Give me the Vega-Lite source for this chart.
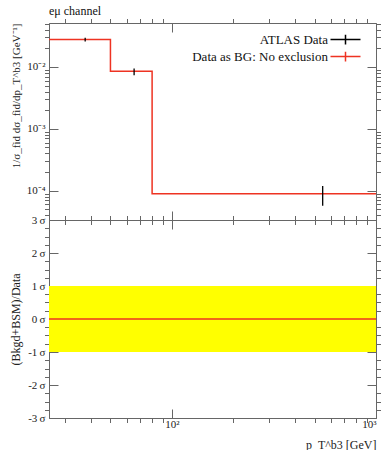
{
  "$schema": "https://vega.github.io/schema/vega-lite/v6.json",
  "autosize": {"type": "pad"},
  "padding": {"left": 9, "top": 5, "right": 13, "bottom": 0},
  "background": "white",
  "title": {"text": "eμ channel", "anchor": "start", "frame": "group", "font": "Liberation Serif", "fontSize": 12, "fontWeight": "normal", "color": "#111", "offset": -1},
  "spacing": 0,
  "bounds": "flush",
  "config": {
    "view": {"stroke": "#666", "strokeWidth": 1},
    "axis": {"grid": false, "domainColor": "#666", "tickColor": "#666", "labelFont": "Liberation Serif", "titleFont": "Liberation Serif", "labelFontSize": 11, "titleFontSize": 12, "labelColor": "#222", "titleColor": "#222", "titleFontWeight": "normal", "labelOverlap": false, "tickWidth": 1},
    "legend": {"labelFont": "Liberation Serif", "labelFontSize": 13, "labelColor": "#111"}
  },
  "vconcat": [
    {
      "width": 327,
      "height": 197,
      "layer": [
        {
          "data": {"values": [
            {"x": 25, "y": 0.0277, "s": "Data as BG: No exclusion"},
            {"x": 50, "y": 0.0085, "s": "Data as BG: No exclusion"},
            {"x": 80, "y": 0.0000895, "s": "Data as BG: No exclusion"},
            {"x": 1000, "y": 0.0000895, "s": "Data as BG: No exclusion"}
          ]},
          "mark": {"type": "line", "interpolate": "step-after", "strokeWidth": 1.5},
          "encoding": {
            "x": {"field": "x", "type": "quantitative", "scale": {"type": "log", "domain": [25, 1000], "nice": false},
              "axis": {"orient": "bottom", "title": null, "labels": false, "values": [30,40,50,60,70,80,90,100,200,300,400,500,600,700,800,900,1000],
                "tickSize": {"condition": {"test": "datum.value==100||datum.value==1000", "value": -9}, "value": 4.5}}},
            "y": {"field": "y", "type": "quantitative", "scale": {"type": "log", "domain": [0.0000337, 0.0513], "nice": false},
              "axis": {"orient": "left", "title": "1/σ_fid dσ_fid/dp_T^b3 [GeV⁻¹]", "titleAnchor": "end", "titleFontSize": 11, "titlePadding": 5,
                "values": [0.00004,0.00005,0.00006,0.00007,0.00008,0.00009,0.0001,0.0002,0.0003,0.0004,0.0005,0.0006,0.0007,0.0008,0.0009,0.001,0.002,0.003,0.004,0.005,0.006,0.007,0.008,0.009,0.01,0.02,0.03,0.04,0.05],
                "labelExpr": "datum.value==0.01?'10⁻²':datum.value==0.001?'10⁻³':datum.value==0.0001?'10⁻⁴':''",
                "labelPadding": 13,
                "tickSize": {"condition": {"test": "datum.value==0.01||datum.value==0.001||datum.value==0.0001", "value": -9}, "value": 4.5}}},
            "color": {"field": "s", "type": "nominal",
              "scale": {"domain": ["ATLAS Data", "Data as BG: No exclusion"], "range": ["#000000", "#ee3322"]},
              "legend": {"title": null, "orient": "none", "legendX": 288, "legendY": 8, "symbolType": "M-2,0H2M0,-0.65V0.65", "symbolSize": 225, "symbolStrokeWidth": 1.5, "symbolFillColor": "transparent", "labelAlign": "right", "labelOffset": -26, "rowPadding": -1}}
          }
        },
        {
          "data": {"values": [
            {"x": 37.6, "lo": 0.0258, "hi": 0.0296, "s": "ATLAS Data"},
            {"x": 65.3, "lo": 0.00734, "hi": 0.00942, "s": "ATLAS Data"},
            {"x": 548, "lo": 0.0000573, "hi": 0.000119, "s": "ATLAS Data"}
          ]},
          "mark": {"type": "rule", "strokeWidth": 1.3},
          "encoding": {
            "x": {"field": "x", "type": "quantitative", "axis": null},
            "y": {"field": "lo", "type": "quantitative", "axis": null},
            "y2": {"field": "hi"},
            "color": {"field": "s", "type": "nominal"}
          }
        },
        {
          "data": {"values": [{"x": 25, "y": 0.0277}, {"x": 1000, "y": 0.0000895}]},
          "mark": {"type": "point", "opacity": 0, "size": 1},
          "encoding": {
            "x": {"field": "x", "type": "quantitative",
              "axis": {"orient": "top", "title": null, "labels": false, "domain": false, "values": [30,40,50,60,70,80,90,100,200,300,400,500,600,700,800,900,1000],
                "tickSize": {"condition": {"test": "datum.value==100||datum.value==1000", "value": -9}, "value": 4.5}}},
            "y": {"field": "y", "type": "quantitative",
              "axis": {"orient": "right", "title": null, "labels": false, "domain": false,
                "values": [0.00004,0.00005,0.00006,0.00007,0.00008,0.00009,0.0001,0.0002,0.0003,0.0004,0.0005,0.0006,0.0007,0.0008,0.0009,0.001,0.002,0.003,0.004,0.005,0.006,0.007,0.008,0.009,0.01,0.02,0.03,0.04,0.05],
                "tickSize": {"condition": {"test": "datum.value==0.01||datum.value==0.001||datum.value==0.0001", "value": -9}, "value": 4.5}}}
          }
        }
      ],
      "resolve": {"axis": {"x": "independent", "y": "independent"}}
    },
    {
      "width": 327,
      "height": 198,
      "layer": [
        {
          "data": {"values": [{"x": 25, "x2": 1000, "y": -1, "y2": 1}]},
          "mark": {"type": "rect", "color": "#ffff00"},
          "encoding": {
            "x": {"field": "x", "type": "quantitative", "scale": {"type": "log", "domain": [25, 1000], "nice": false},
              "axis": {"orient": "bottom", "title": "p_T^b3 [GeV]", "titleAnchor": "end", "titlePadding": -3,
                "values": [30,40,50,60,70,80,90,100,200,300,400,500,600,700,800,900,1000],
                "labelExpr": "datum.value==100?'10²':datum.value==1000?'10³':''",
                "labelPadding": 9,
                "tickSize": {"condition": {"test": "datum.value==100||datum.value==1000", "value": -9}, "value": 4.5}}},
            "x2": {"field": "x2"},
            "y": {"field": "y", "type": "quantitative", "scale": {"domain": [-3, 3], "nice": false},
              "axis": {"orient": "left", "title": "(Bkgd+BSM)/Data", "titleAnchor": "middle", "titlePadding": 5,
                "values": [-3,-2.75,-2.5,-2.25,-2,-1.75,-1.5,-1.25,-1,-0.75,-0.5,-0.25,0,0.25,0.5,0.75,1,1.25,1.5,1.75,2,2.25,2.5,2.75,3],
                "labelExpr": "datum.value%1==0 ? datum.value + '\u2009σ' : ''",
                "labelPadding": 13,
                "tickSize": {"condition": {"test": "datum.value%1==0", "value": -9}, "value": 4.5}}},
            "y2": {"field": "y2"}
          }
        },
        {
          "data": {"values": [{"x": 25, "x2": 1000, "y": 0}]},
          "mark": {"type": "rule", "color": "#ee3322", "strokeWidth": 1.5},
          "encoding": {
            "x": {"field": "x", "type": "quantitative", "axis": null},
            "x2": {"field": "x2"},
            "y": {"field": "y", "type": "quantitative", "axis": null}
          }
        },
        {
          "data": {"values": [{"x": 25, "y": -3}, {"x": 1000, "y": 3}]},
          "mark": {"type": "point", "opacity": 0, "size": 1},
          "encoding": {
            "x": {"field": "x", "type": "quantitative",
              "axis": {"orient": "top", "title": null, "labels": false, "domain": false, "values": [30,40,50,60,70,80,90,100,200,300,400,500,600,700,800,900,1000],
                "tickSize": {"condition": {"test": "datum.value==100||datum.value==1000", "value": -9}, "value": 4.5}}},
            "y": {"field": "y", "type": "quantitative",
              "axis": {"orient": "right", "title": null, "labels": false, "domain": false,
                "values": [-3,-2.75,-2.5,-2.25,-2,-1.75,-1.5,-1.25,-1,-0.75,-0.5,-0.25,0,0.25,0.5,0.75,1,1.25,1.5,1.75,2,2.25,2.5,2.75,3],
                "tickSize": {"condition": {"test": "datum.value%1==0", "value": -9}, "value": 4.5}}}
          }
        }
      ],
      "resolve": {"axis": {"x": "independent", "y": "independent"}}
    }
  ]
}
